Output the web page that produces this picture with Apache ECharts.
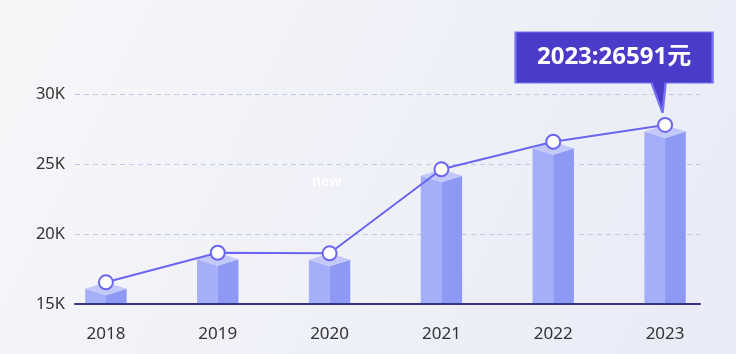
<!DOCTYPE html>
<html>
<head>
<meta charset="utf-8">
<script src="https://cdn.jsdelivr.net/npm/echarts@6/dist/echarts.min.js"></script>
<style>
  html, body { margin: 0; padding: 0; }
  #main { width: 736px; height: 354px; }
</style>
</head>
<body>
<div id="main"></div>
<script>
// data
var years = ['2018', '2019', '2020', '2021', '2022', '2023'];
var values = [16550, 18660, 18620, 24620, 26590, 27790];
var yTicks = [15000, 20000, 25000, 30000];
var calloutText = '2023:26591元';
var badgeText = 'new';

var yMin = yTicks[0], yMax = yTicks[yTicks.length - 1], yStep = yTicks[1] - yTicks[0];

function renderCube(params, api) {
    var idx = api.value(0);
    var top = api.coord([idx, api.value(1)]);
    var base = api.coord([idx, yMin]);
    var w = api.size([1, 0])[0] * 0.37;
    var cx = top[0], t = top[1], b = base[1] - 1;
    var l = cx - w / 2, r = cx + w / 2;
    return {
        type: 'group',
        children: [
            {type: 'polygon', shape: {points: [[l, t + 6.5], [cx, t + 13], [cx, b], [l, b]]}, style: {fill: '#a5aef8'}},
            {type: 'polygon', shape: {points: [[cx, t + 13], [r, t + 6.5], [r, b], [cx, b]]}, style: {fill: '#8e99f4'}},
            {type: 'polygon', shape: {points: [[cx, t], [r, t + 6.5], [cx, t + 13], [l, t + 6.5]]}, style: {fill: '#c3c9fb'}}
        ]
    };
}

var myChart = echarts.init(document.getElementById('main'));
var font = "'Noto Sans', 'Noto Sans CJK SC', sans-serif";
var option = {
    backgroundColor: {
        type: 'linear', x: 0, y: 0, x2: 1, y2: 1,
        colorStops: [{offset: 0, color: '#f7f7f9'}, {offset: 1, color: '#e8ebf7'}]
    },
    textStyle: {fontFamily: font},
    title: {
        text: badgeText, left: 307, top: 170,
        textStyle: {color: 'rgba(255,255,255,0.95)', fontSize: 14, fontWeight: 'bold', fontFamily: font}
    },
    grid: [
        {left: 50, right: 15, top: 94, bottom: 50},   // data
        {left: 75, right: 36, top: 94, bottom: 50}    // axis line + split lines
    ],
    xAxis: [
        {
            type: 'category', gridIndex: 0, data: years,
            axisLine: {show: false}, axisTick: {show: false},
            axisLabel: {color: '#333', fontSize: 17, margin: 22, fontFamily: font}
        },
        {
            type: 'category', gridIndex: 1, data: years,
            axisLine: {lineStyle: {color: '#363687', width: 2}},
            axisTick: {show: false}, axisLabel: {show: false}
        }
    ],
    yAxis: [
        {type: 'value', gridIndex: 0, min: yMin, max: yMax, interval: yStep, show: false, splitLine: {show: false}},
        {
            type: 'value', gridIndex: 1, min: yMin, max: yMax, interval: yStep,
            axisLine: {show: false}, axisTick: {show: false},
            axisLabel: {
                color: '#333', fontSize: 16.5, margin: 10, fontFamily: font,
                formatter: function (v) { return (v / 1000) + 'K'; }
            },
            splitLine: {lineStyle: {color: '#c6c7e8', type: [5, 4], width: 1}}
        }
    ],
    series: [
        {
            type: 'custom', xAxisIndex: 0, yAxisIndex: 0,
            renderItem: renderCube,
            data: values.map(function (v, i) { return [i, v]; }),
            z: 2
        },
        {
            type: 'line', xAxisIndex: 0, yAxisIndex: 0,
            data: values,
            symbol: 'circle', symbolSize: 14,
            lineStyle: {color: '#6b66f2', width: 2},
            itemStyle: {color: '#fff', borderColor: '#6b66f2', borderWidth: 2},
            z: 5,
            markPoint: {
                symbol: 'path://M0,0 L197,0 L197,51 L150,51 L147,81 L136,51 L0,51 Z',
                symbolSize: [197, 81],
                symbolKeepAspect: false,
                symbolOffset: [-51, -52.5],
                itemStyle: {color: '#4a3bc9', borderColor: '#7470f3', borderWidth: 1.5},
                label: {
                    show: true, position: 'inside', offset: [0, -15],
                    formatter: calloutText,
                    color: '#fff', fontSize: 24, fontWeight: 'bold', fontFamily: font
                },
                data: [{coord: [years[5], values[5]]}]
            }
        }
    ]
};
myChart.setOption(option);
</script>
</body>
</html>
